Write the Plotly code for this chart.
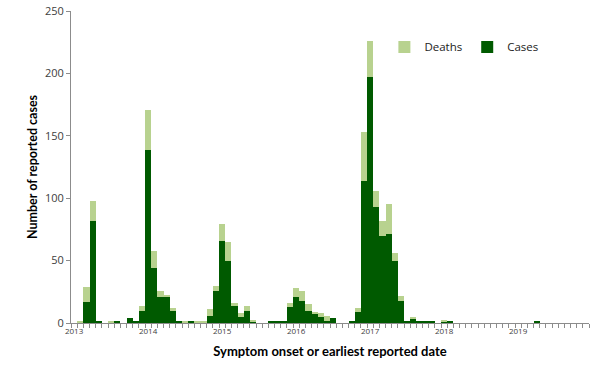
import plotly.graph_objects as go

years = ["2013", "2014", "2015", "2016", "2017", "2018", "2019"]

# Monthly values, Jan 2013 .. Dec 2019 (84 months)
cases = [
    0, 0, 17, 82, 2, 0, 0, 1, 0, 4, 2, 10,          # 2013
    139, 44, 21, 21, 10, 2, 0, 1, 0, 0, 6, 26,      # 2014
    66, 50, 14, 5, 10, 1, 0, 0, 1, 1, 2, 13,        # 2015
    21, 18, 10, 8, 5, 2, 4, 0, 0, 1, 9, 114,        # 2016
    197, 93, 70, 71, 50, 18, 1, 3, 1, 1, 1, 0,      # 2017
    1, 1, 0, 0, 0, 0, 0, 0, 0, 0, 0, 0,             # 2018
    0, 0, 0, 1, 0, 0, 0, 0, 0, 0, 0, 0,             # 2019
]
deaths = [
    0, 2, 12, 16, 0, 0, 1, 0, 0, 0, 0, 4,           # 2013
    32, 14, 5, 1, 2, 0, 1, 0, 1, 1, 5, 4,           # 2014
    13, 15, 2, 3, 4, 1, 0, 0, 0, 0, 0, 3,           # 2015
    7, 8, 5, 1, 3, 4, 0, 0, 0, 0, 3, 39,            # 2016
    29, 13, 12, 24, 6, 4, 0, 2, 0, 0, 0, 0,         # 2017
    1, 0, 0, 0, 0, 0, 0, 0, 0, 0, 0, 0,             # 2018
    0, 0, 0, 0, 0, 0, 0, 0, 0, 0, 0, 0,             # 2019
]

months = list(range(len(cases)))
year_pos = [12 * k for k in range(len(years))]

DARK = "#005a00"
LIGHT = "#b8d28f"
AXIS = "#8c8c8c"

fig = go.Figure()
fig.add_trace(go.Bar(x=months, y=cases, name="Cases", width=1,
                     marker=dict(color=DARK, line=dict(width=0))))
fig.add_trace(go.Bar(x=months, y=deaths, name="Deaths", width=1,
                     marker=dict(color=LIGHT, line=dict(width=0))))

fig.update_layout(
    width=611, height=379,
    margin=dict(l=71, r=22, t=11, b=56, autoexpand=False),
    barmode="stack", bargap=0,
    plot_bgcolor="white", paper_bgcolor="white",
    font=dict(family="Open Sans, DejaVu Sans, sans-serif", color="#404040"),
    showlegend=True,
    legend=dict(orientation="h", traceorder="reversed",
                x=0.605, y=0.885, xanchor="left", yanchor="middle",
                font=dict(family="Open Sans, sans-serif", size=11.5, color="#222222"),
                itemwidth=30, bgcolor="rgba(0,0,0,0)"),
    xaxis=dict(
        automargin=False,
        range=[-0.5, 83.5], showline=True, linecolor=AXIS, linewidth=1,
        showgrid=False, zeroline=False,
        tickmode="array", tickvals=year_pos, ticktext=years, ticks="",
        tickfont=dict(size=8, color="#404040"),
        minor=dict(ticks="outside", tick0=-0.5, dtick=1, ticklen=4,
                   tickcolor=AXIS, showgrid=False),
        title=dict(text="<b>Symptom onset or earliest reported date</b>",
                   font=dict(family="Lato, sans-serif", size=13, color="#000000"),
                   standoff=12),
    ),
    yaxis=dict(
        automargin=False,
        range=[0, 250], dtick=50, showline=True, linecolor=AXIS, linewidth=1,
        showgrid=False, zeroline=False, ticks="outside", ticklen=4,
        tickcolor=AXIS, tickfont=dict(size=11, color="#404040"),
        title=dict(text="<b>Number of reported cases</b>",
                   font=dict(family="Lato, sans-serif", size=12.5, color="#000000"),
                   standoff=4),
    ),
)

fig.write_html("out.html", config={"displayModeBar": False},
               post_script="document.body.style.margin='0';")
